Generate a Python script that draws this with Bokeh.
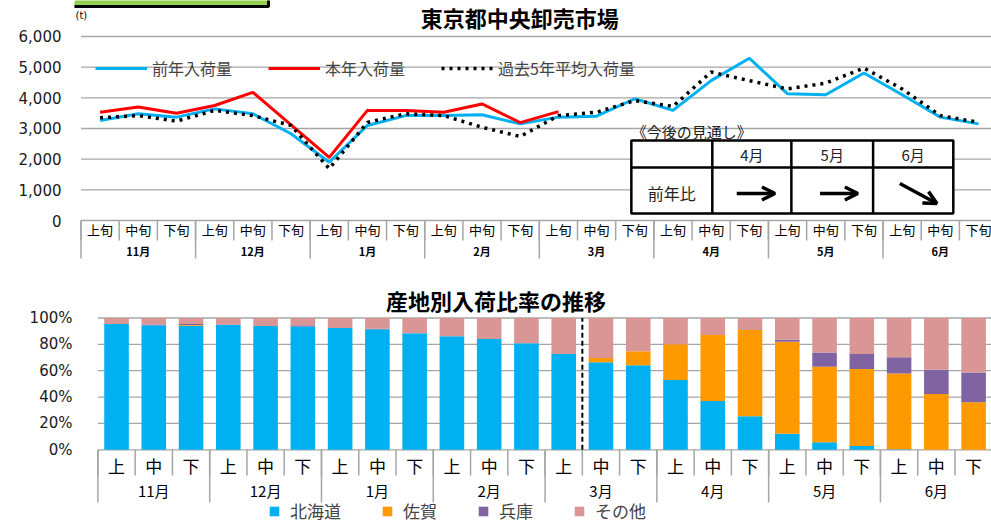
from bokeh.plotting import figure
from bokeh.layouts import column
from bokeh.models import (Range1d, FixedTicker, NumeralTickFormatter, PrintfTickFormatter,
                          Legend, LegendItem, Label, Arrow, OpenHead, ColumnDataSource)
from bokeh.core.properties import value
from bokeh.embed import file_html
from bokeh.resources import INLINE

JP = "Noto Sans CJK JP"

# ---------------- data ----------------
months = ["11月", "12月", "1月", "2月", "3月", "4月", "5月", "6月"]
decades_top = ["上旬", "中旬", "下旬"]
decades_bottom = ["上", "中", "下"]

prev_year = [3260, 3480, 3370, 3640, 3480, 2830, 1900, 3100, 3420, 3420, 3450, 3150,
             3370, 3400, 3970, 3590, 4560, 5290, 4130, 4100, 4810, 4100, 3370, 3150]
this_year = [3530, 3700, 3500, 3750, 4180, 3120, 2060, 3590, 3590, 3530, 3800, 3190, 3550]
avg5 = [3350, 3420, 3240, 3590, 3420, 3100, 1690, 3200, 3480, 3420, 3040, 2740,
        3420, 3530, 3910, 3720, 4840, 4560, 4290, 4480, 4970, 4290, 3420, 3200]

hokkaido = [95.5, 94.5, 94.2, 94.7, 93.9, 93.5, 92.4, 91.4, 88.4, 86.1, 84.1, 80.8,
            72.7, 66.4, 64.1, 53.0, 37.1, 25.5, 12.1, 5.8, 2.8, 0.5, 0.0, 0.0]
saga = [0.0, 0.0, 0.5, 0.0, 0.0, 0.0, 0.0, 0.0, 0.0, 0.0, 0.0, 0.0,
        0.0, 3.3, 10.6, 27.0, 50.0, 65.4, 69.9, 57.3, 58.5, 57.3, 42.4, 36.1]
hyogo = [0.0, 0.5, 0.7, 0.3, 0.0, 1.0, 0.0, 0.5, 0.0, 0.0, 0.0, 0.0,
         0.0, 0.0, 0.0, 0.0, 0.0, 0.0, 1.5, 10.8, 11.4, 12.4, 18.4, 22.5]
others = [4.5, 5.0, 4.6, 5.0, 6.1, 5.5, 7.6, 8.1, 11.6, 13.9, 15.9, 19.2,
          27.3, 30.3, 25.3, 20.0, 12.9, 9.1, 16.5, 26.1, 27.3, 29.8, 39.2, 41.4]

series_names = ["北海道", "佐賀", "兵庫", "その他"]
series_colors = ["#00B0F0", "#FF9900", "#8064A2", "#D99694"]

outlook_months = ["4月", "5月", "6月"]
outlook_row = "前年比"

ticks1 = [0, 1000, 2000, 3000, 4000, 5000, 6000]
ticks2 = [0, 20, 40, 60, 80, 100]

n = len(months) * 3
xs = [i + 0.5 for i in range(n)]
GRID = "#A6A6A6"
sep_x = list(range(n + 1))
msep = list(range(0, n + 1, 3))


def style_yaxis(p, ticks, fmt, standoff, size):
    p.outline_line_color = None
    p.xaxis.visible = False
    p.xgrid.visible = False
    p.ygrid.visible = False
    p.yaxis.ticker = FixedTicker(ticks=ticks)
    p.yaxis.formatter = fmt
    p.yaxis.axis_line_color = None
    p.yaxis.major_tick_line_color = None
    p.yaxis.minor_tick_line_color = None
    p.yaxis.major_tick_out = 0
    p.yaxis.major_tick_in = 0
    p.yaxis.major_label_standoff = standoff
    p.yaxis.major_label_text_font = "DejaVu Sans"
    p.yaxis.major_label_text_font_size = size
    p.yaxis.major_label_text_color = "#1a1a1a"
    # horizontal gridlines spanning the category area
    p.segment(x0=[0] * len(ticks), y0=ticks, x1=[n + 1] * len(ticks), y1=ticks,
              line_color=GRID, line_width=1.3)


# ---------------- top chart ----------------
p1 = figure(width=991, height=262, output_backend="svg", toolbar_location=None,
            x_range=Range1d(-0.17, 23.84), y_range=Range1d(-1369, 7173),
            min_border=0, min_border_left=74)
style_yaxis(p1, ticks1, NumeralTickFormatter(format="0,0"), 13, "15px")

# green header tab (cut off at the top)
p1.quad(left=-1, right=4.91, top=7400, bottom=6977, fill_color="#92D050",
        line_color="black", line_width=3)

r_prev = p1.line(xs, prev_year, line_color="#00B0F0", line_width=3)
r_this = p1.line(xs[:len(this_year)], this_year, line_color="#FF0000", line_width=3)
r_avg = p1.line(xs, avg5, line_color="black", line_width=3.5, line_dash="3 5")

leg1 = Legend(items=[LegendItem(label="前年入荷量", renderers=[r_prev]),
                     LegendItem(label="本年入荷量", renderers=[r_this]),
                     LegendItem(label="過去5年平均入荷量", renderers=[r_avg])],
              orientation="horizontal", location=(21, 182), glyph_width=52, glyph_height=20,
              label_standoff=5, spacing=36, padding=0, margin=0,
              border_line_color=None, background_fill_alpha=0,
              label_text_font=JP, label_text_font_size="16px")
p1.add_layout(leg1)

# category axis (top)
p1.segment(x0=sep_x, y0=[0] * len(sep_x), x1=sep_x, y1=[-652] * len(sep_x),
           line_color=GRID, line_width=1.5)
p1.segment(x0=msep, y0=[0] * len(msep), x1=msep, y1=[-1239] * len(msep),
           line_color=GRID, line_width=1.5)
p1.text(x=xs, y=[-293] * n, text=[decades_top[i % 3] for i in range(n)],
        text_align="center", text_baseline="middle", text_font=value(JP),
        text_font_size="13px", text_color="black")
p1.text(x=[3 * k + 1.5 for k in range(len(months))], y=[-978] * len(months), text=months,
        text_align="center", text_baseline="middle", text_font=value(JP),
        text_font_size="11px", text_font_style="bold", text_color="black")

p1.add_layout(Label(x=11.49, y=6619, text="東京都中央卸売市場", text_align="center",
                    text_baseline="middle", text_font=JP, text_font_size="22px",
                    text_font_style="bold", text_color="black"))
p1.add_layout(Label(x=-0.144, y=6684, text="(t)", text_align="left", text_baseline="middle",
                    text_font="DejaVu Sans", text_font_size="10px", text_color="black"))

# outlook table
tx = [14.41, 16.53, 18.60, 20.74, 22.84]
ty = [2608, 1728, 228]
p1.quad(left=tx[0], right=tx[-1], top=ty[0], bottom=ty[-1], fill_color="white",
        line_color="black", line_width=2.5)
p1.segment(x0=tx[1:-1], y0=[ty[0]] * 3, x1=tx[1:-1], y1=[ty[-1]] * 3,
           line_color="black", line_width=2.5)
p1.segment(x0=[tx[0]], y0=[ty[1]], x1=[tx[-1]], y1=[ty[1]], line_color="black", line_width=2.5)
p1.text(x=[(tx[i] + tx[i + 1]) / 2 for i in range(1, 4)], y=[2150] * 3, text=outlook_months,
        text_align="center", text_baseline="middle", text_font=value(JP),
        text_font_size="15px", text_color="#222222")
p1.text(x=[(tx[0] + tx[1]) / 2], y=[913], text=[outlook_row], text_align="center",
        text_baseline="middle", text_font=value(JP), text_font_size="16px", text_color="#222222")
p1.add_layout(Label(x=14.42, y=2902, text="《今後の見通し》", text_align="left",
                    text_baseline="middle", text_font=JP, text_font_size="15px",
                    text_color="#222222"))
for (x0, y0, x1, y1) in [(17.17, 880, 18.17, 880), (19.35, 880, 20.34, 880),
                         (21.44, 1206, 22.41, 554)]:
    p1.add_layout(Arrow(end=OpenHead(size=13, line_width=3.5, line_color="black"),
                        x_start=x0, y_start=y0, x_end=x1, y_end=y1,
                        line_width=3.5, line_color="black"))

# ---------------- bottom chart ----------------
p2 = figure(width=991, height=261, output_backend="svg", toolbar_location=None,
            x_range=Range1d(-0.628, 23.98), y_range=Range1d(-55.9, 142.1),
            min_border=0, min_border_left=74)
style_yaxis(p2, ticks2, PrintfTickFormatter(format="%d%%"), 2, "15px")

src = ColumnDataSource(dict(x=xs, hok=hokkaido, saga=saga, hyogo=hyogo, other=others))
bars = p2.vbar_stack(["hok", "saga", "hyogo", "other"], x="x", width=0.66, source=src,
                     fill_color=series_colors, line_color=None)

p2.segment(x0=[13], y0=[0], x1=[13], y1=[100], line_color="black", line_width=2,
           line_dash="5 3")

p2.segment(x0=sep_x, y0=[0] * len(sep_x), x1=sep_x, y1=[-19.5] * len(sep_x),
           line_color=GRID, line_width=1.5)
p2.segment(x0=msep, y0=[0] * len(msep), x1=msep, y1=[-40] * len(msep),
           line_color=GRID, line_width=1.5)
p2.text(x=xs, y=[-12] * n, text=[decades_bottom[i % 3] for i in range(n)],
        text_align="center", text_baseline="middle", text_font=value(JP),
        text_font_size="17px", text_color="black")
p2.text(x=[3 * k + 1.5 for k in range(len(months))], y=[-31] * len(months), text=months,
        text_align="center", text_baseline="middle", text_font=value(JP),
        text_font_size="15px", text_color="black")

p2.add_layout(Label(x=10.68, y=113.3, text="産地別入荷比率の推移", text_align="center",
                    text_baseline="middle", text_font=JP, text_font_size="22px",
                    text_font_style="bold", text_color="black"))

leg2 = Legend(items=[LegendItem(label=series_names[i], renderers=[bars[i]]) for i in range(4)],
              orientation="horizontal", location=(194, 0), glyph_width=12, glyph_height=12,
              label_standoff=10, spacing=40, padding=0, margin=0,
              border_line_color=None, background_fill_alpha=0,
              label_text_font=JP, label_text_font_size="17px")
p2.add_layout(leg2)

layout = column(p1, p2, spacing=0)
open("out.html", "w").write(file_html(layout, INLINE))
